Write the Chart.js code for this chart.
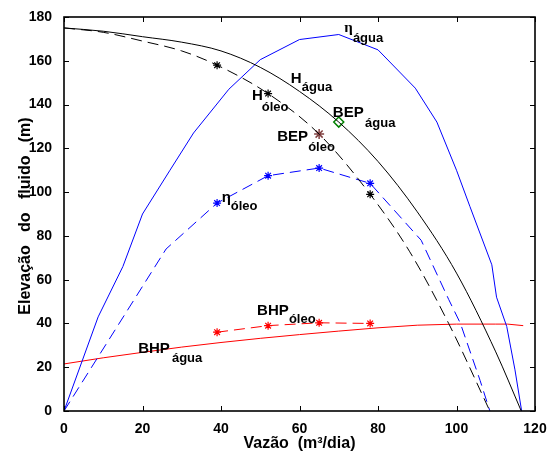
<!doctype html>
<html lang="pt">
<head>
<meta charset="UTF-8" />
<title>Curvas da bomba - água e óleo</title>
<style>
  html, body { margin: 0; padding: 0; background: #fff; }
  canvas { display: block; }
</style>
</head>
<body>
<canvas id="chart" width="554" height="457"></canvas>
<script src="https://cdn.jsdelivr.net/npm/chart.js"></script>
<script>
// ---- data (x = vazão m3/dia, y = elevação m) ----
const hAguaX = [0, 10, 20, 30, 40, 50, 60, 70, 80, 90, 100, 110, 116.5];
const hAguaY = [175, 173.5, 171, 168.5, 164.5, 157, 146, 132, 114, 91, 63, 27, 0];

const hOleoX = [0, 10, 20, 30, 39, 52, 65, 78, 88, 98, 108.5];
const hOleoY = [175, 173, 169, 164.5, 158, 145, 126.5, 99, 73, 40, 0];

const etaAguaX = [0, 8.7, 15, 20, 27, 33, 42, 50, 60, 70, 80, 89.5, 95, 100, 103.4, 109, 110.2, 112.8, 114.9, 116.6];
const etaAguaY = [0, 43, 66, 90, 110, 127, 147, 160.5, 169.7, 172, 165, 147.5, 132, 110, 93.5, 66.8, 52, 38.6, 18.8, 0];

const etaOleoX = [0, 26, 39, 52, 65, 78, 91, 98, 101, 106, 108.5];
const etaOleoY = [0, 74, 95, 107.5, 111, 104, 78, 51, 40, 14, 0];

const bhpAguaX = [0, 10, 20, 30, 40, 50, 60, 70, 80, 90, 100, 110, 113, 117];
const bhpAguaY = [21.5, 24.3, 26.8, 29.2, 31.3, 33.2, 34.9, 36.5, 38, 39.2, 39.7, 39.7, 39.7, 39];

// measured oil points (stars)
const oleoX = [39, 52, 65, 78];
const hOleoPts = [158, 145, 126.5, 99];
const bhpOleoPts = [36, 39, 40.3, 40];

const bepAgua = [70, 132];
const bepOleo = [65, 126.5];

const xTicks = [0, 20, 40, 60, 80, 100, 120];
const yTicks = [0, 20, 40, 60, 80, 100, 120, 140, 160, 180];

// text labels: main text, subscript, anchor points in data units
const curveLabels = [
  { main: 'η', sub: 'água', at: [71.4, 173.2], subAt: [73.6, 168.8], greek: true },
  { main: 'H', sub: 'água', at: [57.8, 150], subAt: [60.6, 146] },
  { main: 'H', sub: 'óleo', at: [47.9, 142.3], subAt: [50.4, 137.2] },
  { main: 'BEP', sub: 'água', at: [68.5, 134.5], subAt: [76.7, 129.9] },
  { main: 'BEP', sub: 'óleo', at: [54.3, 123.5], subAt: [62.2, 118.9] },
  { main: 'η', sub: 'óleo', at: [40.2, 95.5], subAt: [42.5, 92] },
  { main: 'BHP', sub: 'óleo', at: [49.2, 43.9], subAt: [57.3, 40.3] },
  { main: 'BHP', sub: 'água', at: [18.9, 26.5], subAt: [27.5, 22.4] }
];

const pts = (xs, ys) => xs.map((v, i) => ({ x: v, y: ys[i] }));
const FONT = "'Liberation Sans', Arial, sans-serif";
const DASH = [11, 6];

const frame = {
  id: 'frame',
  afterDraw(chart) {
    const { ctx, chartArea: a, scales: { x, y } } = chart;
    ctx.save();
    ctx.strokeStyle = '#000';
    ctx.lineWidth = 1;
    ctx.beginPath();
    xTicks.forEach(t => {
      const px = Math.round(x.getPixelForValue(t)) + 0.5;
      ctx.moveTo(px, a.bottom); ctx.lineTo(px, a.bottom - 5);
      ctx.moveTo(px, a.top); ctx.lineTo(px, a.top + 5);
    });
    yTicks.forEach(t => {
      const py = Math.round(y.getPixelForValue(t)) + 0.5;
      ctx.moveTo(a.left, py); ctx.lineTo(a.left + 5, py);
      ctx.moveTo(a.right, py); ctx.lineTo(a.right - 5, py);
    });
    ctx.stroke();
    ctx.lineWidth = 1.6;
    ctx.strokeRect(a.left, a.top, a.right - a.left, a.bottom - a.top);

    // axis titles
    ctx.fillStyle = '#000';
    ctx.font = 'bold 16px ' + FONT;
    ctx.textAlign = 'center';
    ctx.textBaseline = 'alphabetic';
    ctx.fillText('Vazão  (m³/dia)', (a.left + a.right) / 2, 448);
    ctx.save();
    ctx.translate(30, (a.top + a.bottom) / 2 + 2);
    ctx.rotate(-Math.PI / 2);
    ctx.fillText('Elevação   do   fluido   (m)', 0, 0);
    ctx.restore();
    ctx.restore();
  }
};

const labelsPlugin = {
  id: 'curveLabels',
  afterDatasetsDraw(chart) {
    const { ctx, scales: { x, y } } = chart;
    ctx.save();
    ctx.fillStyle = '#000';
    ctx.textAlign = 'left';
    ctx.textBaseline = 'alphabetic';
    curveLabels.forEach(l => {
      ctx.font = l.greek ? "bold 15px 'Liberation Serif', serif" : 'bold 15px ' + FONT;
      ctx.fillText(l.main, x.getPixelForValue(l.at[0]), y.getPixelForValue(l.at[1]));
      ctx.font = 'bold 13px ' + FONT;
      ctx.fillText(l.sub, x.getPixelForValue(l.subAt[0]), y.getPixelForValue(l.subAt[1]));
    });
    ctx.restore();
  }
};

const line = (data, color, dashed, extra) => Object.assign({
  data: data,
  borderColor: color,
  backgroundColor: color,
  borderWidth: 1,
  borderDash: dashed ? DASH : [],
  pointRadius: 0,
  showLine: true,
  fill: false
}, extra || {});

const ctx = document.getElementById('chart').getContext('2d');
new Chart(ctx, {
  type: 'scatter',
  data: {
    datasets: [
      line(pts(hAguaX, hAguaY), '#000', false, { cubicInterpolationMode: 'monotone' }),
      line(pts(hOleoX, hOleoY), '#000', true, { cubicInterpolationMode: 'monotone' }),
      line(pts(etaAguaX, etaAguaY), '#0000ff', false),
      line(pts(etaOleoX, etaOleoY), '#0000ff', true, {
        pointStyle: 'star',
        pointRadius: c => (c.raw && oleoX.includes(c.raw.x) ? 4 : 0),
        pointBorderWidth: 1.2
      }),
      line(pts(bhpAguaX, bhpAguaY), '#ff0000', false),
      line(pts(oleoX, bhpOleoPts), '#ff0000', true, {
        pointStyle: 'star', pointRadius: 4, pointBorderWidth: 1.2
      }),
      // black stars on H oleo (65 is the BEP, drawn separately)
      line(pts([39, 52, 78], [hOleoPts[0], hOleoPts[1], hOleoPts[3]]), '#000', false, {
        showLine: false, pointStyle: 'star', pointRadius: 4, pointBorderWidth: 1.2
      }),
      line([{ x: bepOleo[0], y: bepOleo[1] }], '#804040', false, {
        showLine: false, pointStyle: 'star', pointRadius: 5, pointBorderWidth: 1.5
      }),
      line([{ x: bepAgua[0], y: bepAgua[1] }], '#008000', false, {
        showLine: false, pointStyle: 'rectRot', pointRadius: 5, pointBorderWidth: 1.5,
        backgroundColor: 'rgba(0,0,0,0)'
      })
    ]
  },
  options: {
    responsive: false,
    animation: false,
    devicePixelRatio: 1,
    layout: { padding: { top: 17, right: 19, left: 0, bottom: 0 } },
    plugins: { legend: { display: false }, tooltip: { enabled: false } },
    scales: {
      x: {
        type: 'linear', min: 0, max: 120,
        grid: { display: false },
        border: { display: false },
        afterBuildTicks: s => { s.ticks = xTicks.map(v => ({ value: v })); },
        afterFit: s => { s.height = 46; },
        ticks: { color: '#000', padding: 2, maxRotation: 0, font: { family: FONT, size: 14, weight: 'bold' } }
      },
      y: {
        type: 'linear', min: 0, max: 180,
        grid: { display: false },
        border: { display: false },
        afterBuildTicks: s => { s.ticks = yTicks.map(v => ({ value: v })); },
        afterFit: s => { s.width = 64; },
        ticks: { color: '#000', padding: 4, font: { family: FONT, size: 14, weight: 'bold' } }
      }
    }
  },
  plugins: [frame, labelsPlugin]
});
</script>
</body>
</html>
